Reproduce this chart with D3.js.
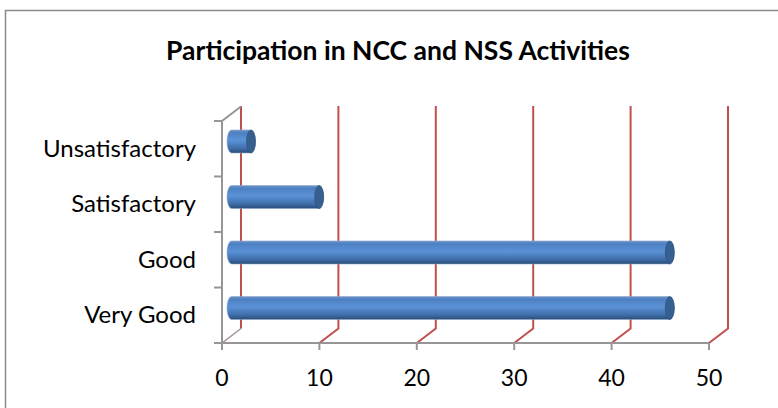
<!DOCTYPE html>
<html>
<head>
<meta charset="utf-8">
<script src="https://cdn.jsdelivr.net/npm/d3@7"></script>
<style>
  body { margin: 0; background: #fff; }
  text { font-family: Lato, "Liberation Sans", Arial, sans-serif; fill: #000; }
</style>
</head>
<body>
<div id="chart"></div>
<script>
// dati del grafico
var categorie = ["Very Good", "Good", "Satisfactory", "Unsatisfactory"];
var valori = [45, 45, 9, 2];
var tick_valori = [0, 10, 20, 30, 40, 50];
var titolo = "Participation in NCC and NSS Activities";

var larghezza = 778, altezza = 408;
// profondita' dell'effetto 3D
var dx = 19, dy = -14.5;

var svg = d3.select("#chart").append("svg")
  .attr("width", larghezza)
  .attr("height", altezza);

// bordo del grafico
svg.append("rect")
  .attr("x", 5.5).attr("y", 10.5)
  .attr("width", 900).attr("height", 600)
  .attr("fill", "none")
  .attr("stroke", "#8c8c8c")
  .attr("stroke-width", 1.5);

svg.append("text")
  .attr("x", 398).attr("y", 60)
  .attr("text-anchor", "middle")
  .style("font-weight", "bold")
  .style("font-size", "26.5px")
  .text(titolo);

var x = d3.scaleLinear().domain([0, 50]).range([222, 709]);
var y = d3.scaleBand().domain(categorie).range([343, 121]).paddingInner(0.586).paddingOuter(0.293);

var gradiente = svg.append("defs").append("linearGradient")
  .attr("id", "cilindro")
  .attr("x1", 0).attr("y1", 0).attr("x2", 0).attr("y2", 1);
gradiente.append("stop").attr("offset", "0%").attr("stop-color", "#6f95c6");
gradiente.append("stop").attr("offset", "12%").attr("stop-color", "#4d80c2");
gradiente.append("stop").attr("offset", "45%").attr("stop-color", "#5b92d6");
gradiente.append("stop").attr("offset", "80%").attr("stop-color", "#3f6ea9");
gradiente.append("stop").attr("offset", "100%").attr("stop-color", "#2a4b78");

// griglia (parete posteriore + diagonali sul pavimento)
tick_valori.forEach(function(t) {
  var xf = x(t);
  if (t > 0) {
    svg.append("path")
      .attr("d", "M" + xf + "," + 343 + "L" + (xf + dx) + "," + (343 + dy) + "L" + (xf + dx) + "," + 106)
      .attr("fill", "none")
      .attr("stroke", "#c0504d")
      .attr("stroke-width", 2);
  } else {
    svg.append("path")
      .attr("d", "M" + (xf + dx) + "," + (343 + dy) + "L" + (xf + dx) + "," + 106)
      .attr("fill", "none")
      .attr("stroke", "#c0504d")
      .attr("stroke-width", 2);
    svg.append("path")
      .attr("d", "M" + xf + "," + 343 + "L" + (xf + dx) + "," + (343 + dy))
      .attr("fill", "none")
      .attr("stroke", "#a0908f")
      .attr("stroke-width", 1.5);
  }
});

// asse verticale
svg.append("path")
  .attr("d", "M222,343L222,121L" + (222 + dx) + "," + (121 + dy))
  .attr("fill", "none")
  .attr("stroke", "#969696")
  .attr("stroke-width", 2);

var confini = [343].concat(categorie.map(function(c) { return y(c) - y.step() * y.paddingInner() / 2; }));
confini.forEach(function(b) {
  svg.append("line")
    .attr("x1", 214).attr("x2", 222)
    .attr("y1", b).attr("y2", b)
    .attr("stroke", "#969696").attr("stroke-width", 2);
});

// asse orizzontale
svg.append("line")
  .attr("x1", 214).attr("x2", x(50))
  .attr("y1", 343).attr("y2", 343)
  .attr("stroke", "#969696").attr("stroke-width", 2);

svg.selectAll(".tick_x").data(tick_valori).enter().append("line")
  .attr("x1", function(d) { return x(d); })
  .attr("x2", function(d) { return x(d); })
  .attr("y1", 343).attr("y2", 350)
  .attr("stroke", "#969696").attr("stroke-width", 2);

svg.selectAll(".lab_x").data(tick_valori).enter().append("text")
  .attr("x", function(d) { return x(d); })
  .attr("y", 386)
  .attr("text-anchor", "middle")
  .style("font-size", "23px")
  .text(function(d) { return d; });

svg.selectAll(".lab_y").data(categorie).enter().append("text")
  .attr("x", 196)
  .attr("y", function(d) { return y(d) + y.bandwidth() / 2 + 8; })
  .attr("text-anchor", "end")
  .style("font-size", "24px")
  .text(function(d) { return d; });

// cilindri
var rx = 4.5;
var h = y.bandwidth();
var dati = categorie.map(function(c, i) { return { cat: c, val: valori[i] }; });

var barre = svg.selectAll(".barra").data(dati).enter().append("g");

barre.append("path")
  .attr("d", function(d) {
    var cy = y(d.cat) + h / 2 + dy / 2;
    var x0 = x(0) + dx / 2, x1 = x(d.val) + dx / 2;
    return "M" + x0 + "," + (cy - h / 2) + "L" + x1 + "," + (cy - h / 2) +
      "A" + rx + "," + (h / 2) + " 0 0 1 " + x1 + "," + (cy + h / 2) +
      "L" + x0 + "," + (cy + h / 2) +
      "A" + rx + "," + (h / 2) + " 0 0 1 " + x0 + "," + (cy - h / 2) + "Z";
  })
  .attr("fill", "url(#cilindro)")
  .attr("stroke", "#8aa6cc")
  .attr("stroke-width", 0.6);

barre.append("ellipse")
  .attr("cx", function(d) { return x(d.val) + dx / 2; })
  .attr("cy", function(d) { return y(d.cat) + h / 2 + dy / 2; })
  .attr("rx", rx).attr("ry", h / 2)
  .attr("fill", "#36608f")
  .attr("stroke", "#2d4f78")
  .attr("stroke-width", 0.6);
</script>
</body>
</html>
